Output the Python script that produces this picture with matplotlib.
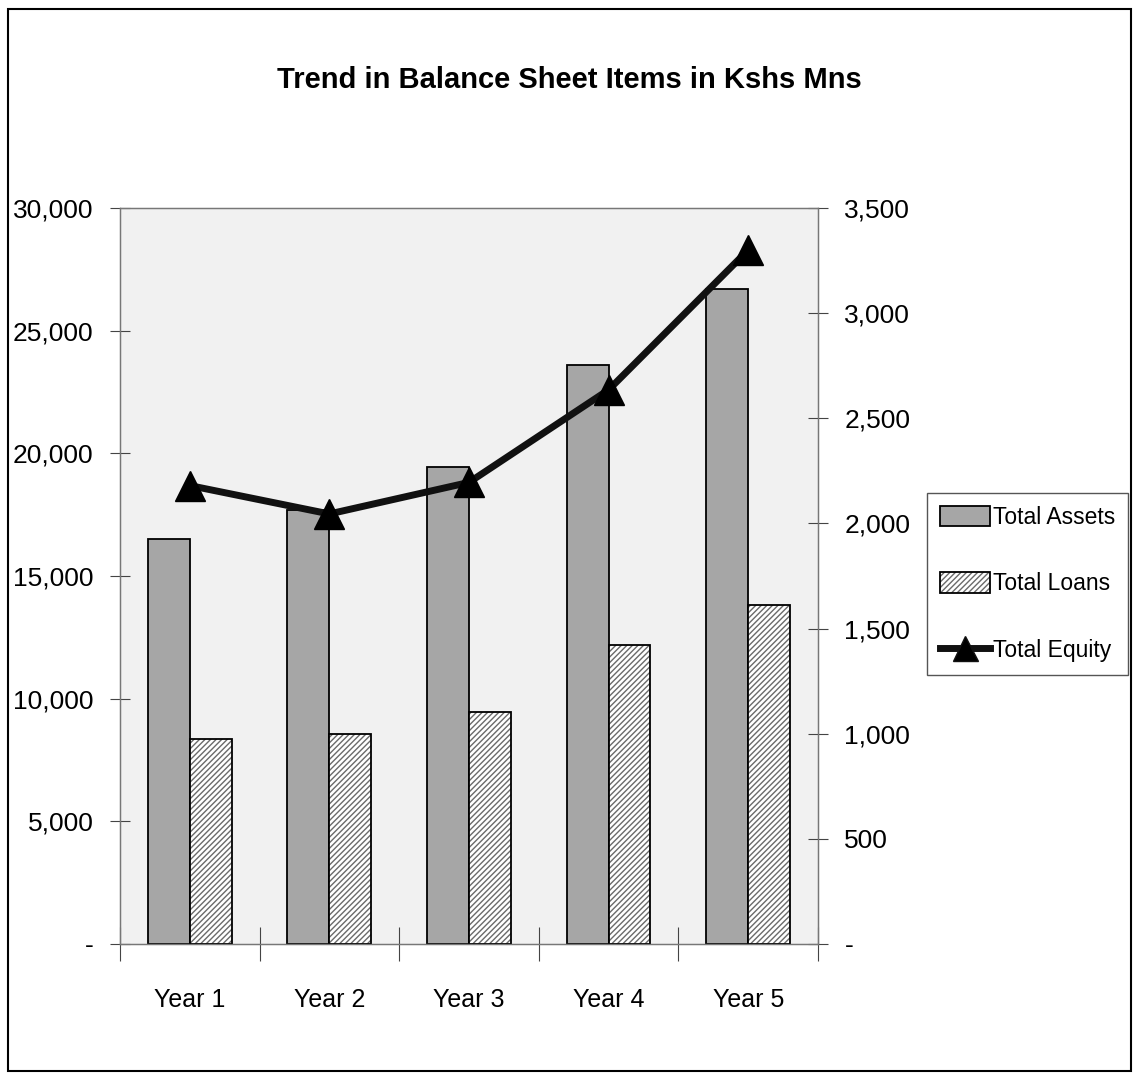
import matplotlib.pyplot as plt
import numpy as np
from matplotlib.patches import Patch, Rectangle
from matplotlib.lines import Line2D
from matplotlib.ticker import FuncFormatter, MultipleLocator

years = ["Year 1", "Year 2", "Year 3", "Year 4", "Year 5"]
total_assets = [16500, 17700, 19450, 23600, 26700]
total_loans = [8350, 8550, 9450, 12200, 13800]
total_equity = [2180, 2045, 2195, 2635, 3300]

plt.rcParams['font.family'] = ['Liberation Sans', 'DejaVu Sans']


def fmt(v, pos):
    # excel accounting style: zero shown as a dash
    if abs(v) < 1e-9:
        return "-"
    return f"{v:,.0f}"


def create_grf():
    fig = plt.figure(figsize=(11.38, 10.77), dpi=100)
    ax = fig.add_axes([0.1054, 0.1235, 0.6134, 0.6834])
    ax.set_facecolor('#f1f1f1')

    x = np.arange(len(years))
    w = 0.3

    ax.bar(x - w / 2, total_assets, w, color='#a6a6a6', edgecolor='black', linewidth=1.3, zorder=2)
    # hatched loans: hatch layer in grey, outline in black on top
    ax.bar(x + w / 2, total_loans, w, color='white', edgecolor='#6a6a6a', hatch='//////', linewidth=0, zorder=2)
    ax.bar(x + w / 2, total_loans, w, fill=False, edgecolor='black', linewidth=1.3, zorder=3)

    ax.set_xlim(-0.5, len(years) - 0.5)
    ax.set_ylim(0, 30000)
    ax.yaxis.set_major_locator(MultipleLocator(5000))
    ax.yaxis.set_major_formatter(FuncFormatter(fmt))

    ax.set_xticks(np.arange(-0.5, len(years), 1.0))
    ax.set_xticklabels([])
    ax.set_xticks(x, minor=True)
    ax.set_xticklabels(years, minor=True)
    ax.tick_params(axis='x', which='major', direction='inout', length=24, width=0.8, color='#444444')
    ax.tick_params(axis='x', which='minor', length=0, pad=32, labelsize=18)
    ax.tick_params(axis='y', direction='inout', length=14, width=0.8, color='#444444', pad=12, labelsize=19)

    ax2 = ax.twinx()
    ax2.set_ylim(0, 3500)
    ax2.yaxis.set_major_locator(MultipleLocator(500))
    ax2.yaxis.set_major_formatter(FuncFormatter(fmt))
    ax2.tick_params(axis='y', direction='inout', length=14, width=0.8, color='#444444', pad=12, labelsize=19)
    ax2.plot(x, total_equity, color='#111111', linewidth=5, marker='^', markersize=22,
             markerfacecolor='black', markeredgecolor='black', zorder=5)

    for a in (ax, ax2):
        for s in a.spines.values():
            s.set_color('#777777')
            s.set_linewidth(0.9)

    fig.text(0.5, 0.926, "Trend in Balance Sheet Items in Kshs Mns", ha='center', va='center',
             fontsize=21, fontweight='bold')

    handles = [
        Patch(facecolor='#a6a6a6', edgecolor='black', linewidth=1.3),
        (Patch(facecolor='white', edgecolor='#6a6a6a', hatch='//////', linewidth=0),
         Patch(fill=False, edgecolor='black', linewidth=1.3)),
        Line2D([], [], color='#111111', linewidth=5, marker='^', markersize=18, markerfacecolor='black'),
    ]
    fig.legend(handles, ["Total Assets", "Total Loans", "Total Equity"],
               loc='center left', bbox_to_anchor=(0.815, 0.458), fontsize=16.5,
               frameon=True, fancybox=False, edgecolor='#555555', framealpha=1,
               handlelength=2.2, handleheight=1.0, handletextpad=0.1, labelspacing=1.9,
               borderpad=0.55, borderaxespad=0)

    # outer chart frame
    fig.patches.append(Rectangle((0.007, 0.006), 0.987, 0.986, transform=fig.transFigure,
                                 fill=False, edgecolor='black', linewidth=1.5))

    fig.savefig('out.png', dpi=100)


def main():
    create_grf()


if __name__ == "__main__":
    main()
